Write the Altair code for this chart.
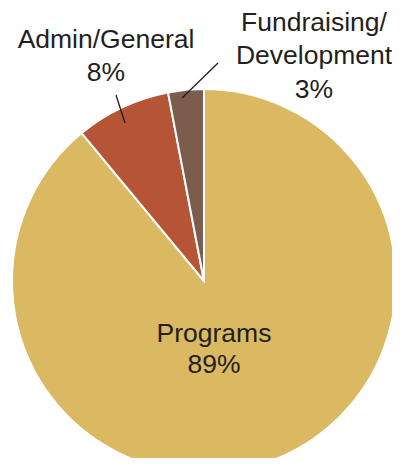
import altair as alt
import pandas as pd

categories = ["Programs", "Admin/General", "Fundraising/Development"]
values = [89, 8, 3]
colors = ["#DBB962", "#B55536", "#7C5D4D"]
labels = ["Programs\n89%", "Admin/General\n8%", "Fundraising/\nDevelopment\n3%"]

df = pd.DataFrame({"category": categories, "value": values,
                   "order": list(range(len(categories))), "label": labels})

CX, CY, R = 196, 273, 192
FONT = "Liberation Sans"
TXT = "#231F20"

pie = alt.Chart(df).mark_arc(outerRadius=R, stroke="white", strokeWidth=2).encode(
    theta=alt.Theta("value:Q", stack=True),
    order=alt.Order("order:Q"),
    color=alt.Color("category:N", scale=alt.Scale(domain=categories, range=colors), legend=None),
    x=alt.value(CX),
    y=alt.value(CY),
)

def label(cat, x, y, lh):
    return alt.Chart(df).transform_filter(alt.datum.category == cat).mark_text(
        font=FONT, fontSize=26.5, color=TXT, lineBreak="\n", lineHeight=lh,
        align="center", baseline="alphabetic"
    ).encode(text="label:N", x=alt.value(x), y=alt.value(y))

def leader(cat, x1, y1, x2, y2):
    return alt.Chart(df).transform_filter(alt.datum.category == cat).mark_rule(
        color=TXT, strokeWidth=1.3
    ).encode(x=alt.value(x1), y=alt.value(y1), x2=alt.value(x2), y2=alt.value(y2))

chart = alt.layer(
    pie,
    leader("Admin/General", 108, 87, 117, 115),
    leader("Fundraising/Development", 210, 55, 174, 90),
    label("Programs", 206, 334, 31),
    label("Admin/General", 98, 40, 33.4),
    label("Fundraising/Development", 306, 23, 33.3),
).properties(
    width=384, height=450, padding=0,
    autosize=alt.AutoSizeParams(type="none"),
).configure_view(stroke=None)

chart.save("out.html", embed_options={"renderer": "svg", "actions": False})
